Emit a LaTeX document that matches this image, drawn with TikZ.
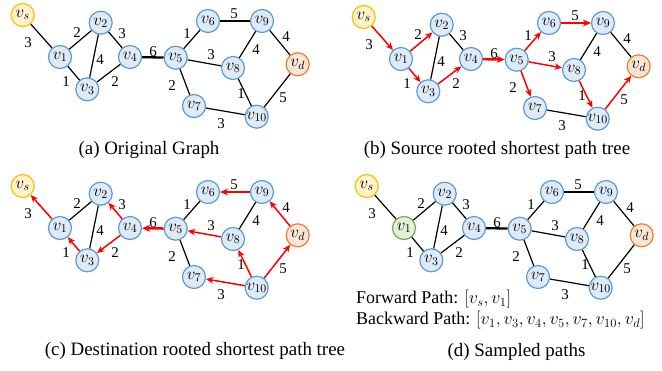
\RequirePackage{fix-cm}
\documentclass[tikz,border=0pt]{standalone}
\usepackage{fontspec}
\setmainfont{Liberation Serif}
\usetikzlibrary{arrows.meta}

\definecolor{nodefill}{HTML}{DEEBF7}
\definecolor{nodeline}{HTML}{5B9BD5}
\definecolor{srcfill}{HTML}{FFF2CC}
\definecolor{srcline}{HTML}{FFC000}
\definecolor{dstfill}{HTML}{FBE5D6}
\definecolor{dstline}{HTML}{ED7D31}
\definecolor{pickfill}{HTML}{E2F0D9}
\definecolor{pickline}{HTML}{70AD47}
\definecolor{treered}{HTML}{FF0000}

\tikzset{
  vnode/.style={circle, draw=nodeline, fill=nodefill, line width=1.2bp,
    minimum size=23bp, inner sep=0pt, font=\fontsize{17}{17}\selectfont},
  srcnode/.style={draw=srcline, fill=srcfill},
  dstnode/.style={draw=dstline, fill=dstfill},
  picknode/.style={draw=pickline, fill=pickfill},
  wlabel/.style={font=\fontsize{15}{15}\selectfont, inner sep=0pt},
  plain/.style={line width=1.2bp, black},
  heavy/.style={line width=2.3bp},
  tree/.style={treered, line width=1.5bp, -{Stealth[length=7.5bp,width=6.5bp]}},
  heavytree/.style={tree, line width=2.5bp, -{Stealth[length=8bp,width=7bp]}},
  caption/.style={font=\fontsize{19}{19}\selectfont, inner sep=0pt},
  pathtext/.style={font=\fontsize{18}{18}\selectfont, inner sep=0pt, anchor=west},
}

% vertices of one copy of the graph; #1 = name prefix, #2 = extra style for v1
\newcommand\graphnodes[2]{%
  \node[vnode,srcnode] (#1vs)  at (22.7,15)    {$v_s$};
  \node[vnode,#2]      (#1v1)  at (60,57)      {$v_1$};
  \node[vnode]         (#1v2)  at (100.7,22.7) {$v_2$};
  \node[vnode]         (#1v3)  at (87.3,89.3)  {$v_3$};
  \node[vnode]         (#1v4)  at (130,57)     {$v_4$};
  \node[vnode]         (#1v5)  at (175.7,57.7) {$v_5$};
  \node[vnode]         (#1v6)  at (208,21)     {$v_6$};
  \node[vnode]         (#1v7)  at (194,106)    {$v_7$};
  \node[vnode]         (#1v8)  at (233,68)     {$v_8$};
  \node[vnode]         (#1v9)  at (262,21)     {$v_9$};
  \node[vnode]         (#1v10) at (256.7,116.7){$v_{10}$};
  \node[vnode,dstnode] (#1vd)  at (297.7,64.3) {$v_d$};
}

% edge weights; #1 = name prefix
\newcommand\graphweights[1]{%
  \node[wlabel] (#1w1)  at (28,43)  {3};
  \node[wlabel] (#1w2)  at (77,33)  {2};
  \node[wlabel] (#1w3)  at (122,34) {3};
  \node[wlabel] (#1w4)  at (100,60) {4};
  \node[wlabel] (#1w5)  at (66,82)  {1};
  \node[wlabel] (#1w6)  at (115,82) {2};
  \node[wlabel] (#1w7)  at (153,52) {6};
  \node[wlabel] (#1w8)  at (187,34) {1};
  \node[wlabel] (#1w9)  at (234,14) {5};
  \node[wlabel] (#1w10) at (211,55) {3};
  \node[wlabel] (#1w11) at (256,50) {4};
  \node[wlabel] (#1w12) at (286,37) {4};
  \node[wlabel] (#1w13) at (172,86) {2};
  \node[wlabel] (#1w14) at (241,94) {1};
  \node[wlabel] (#1w15) at (283,98) {5};
  \node[wlabel] (#1w16) at (221,124){3};
}

% undirected graph; #1 = name prefix
\newcommand\plaingraph[1]{%
  \draw[plain] (#1vs) -- (#1v1);
  \draw[plain] (#1v1) -- (#1v2);
  \draw[plain] (#1v1) -- (#1v3);
  \draw[plain] (#1v2) -- (#1v3);
  \draw[plain] (#1v2) -- (#1v4);
  \draw[plain] (#1v3) -- (#1v4);
  \draw[plain,heavy] (#1v4) -- (#1v5);
  \draw[plain] (#1v5) -- (#1v6);
  \draw[plain] (#1v5) -- (#1v8);
  \draw[plain] (#1v5) -- (#1v7);
  \draw[plain,heavy] (#1v6) -- (#1v9);
  \draw[plain] (#1v8) -- (#1v9);
  \draw[plain] (#1v8) -- (#1v10);
  \draw[plain] (#1v9) -- (#1vd);
  \draw[plain] (#1v7) -- (#1v10);
  \draw[plain] (#1v10) -- (#1vd);
}

\begin{document}
\begin{tikzpicture}[x=1bp,y=-1bp]
\useasboundingbox (0,0) rectangle (662,370);

% (a) original graph
\begin{scope}
  \graphnodes{a}{}
  \graphweights{a}
  \plaingraph{a}
\end{scope}
\node[caption] (capa) at (149,150) {(a) Original Graph};

% (b) tree of shortest paths from the source
\begin{scope}[shift={(341,2)}]
  \graphnodes{b}{}
  \graphweights{b}
  \draw[tree] (bvs) -- (bv1);
  \draw[tree] (bv1) -- (bv2);
  \draw[tree] (bv1) -- (bv3);
  \draw[plain] (bv2) -- (bv3);
  \draw[plain] (bv2) -- (bv4);
  \draw[tree] (bv3) -- (bv4);
  \draw[heavytree] (bv4) -- (bv5);
  \draw[tree] (bv5) -- (bv6);
  \draw[tree] (bv5) -- (bv8);
  \draw[tree] (bv5) -- (bv7);
  \draw[heavytree] (bv6) -- (bv9);
  \draw[plain] (bv8) -- (bv9);
  \draw[tree] (bv8) -- (bv10);
  \draw[plain] (bv9) -- (bvd);
  \draw[plain] (bv7) -- (bv10);
  \draw[tree] (bv10) -- (bvd);
\end{scope}
\node[caption] (capb) at (497,150) {(b) Source rooted shortest path tree};

% (c) tree of shortest paths towards the destination
\begin{scope}[shift={(0,171)}]
  \graphnodes{c}{}
  \graphweights{c}
  \draw[tree] (cv1) -- (cvs);
  \draw[plain] (cv1) -- (cv2);
  \draw[tree] (cv3) -- (cv1);
  \draw[plain] (cv2) -- (cv3);
  \draw[tree] (cv4) -- (cv2);
  \draw[tree] (cv4) -- (cv3);
  \draw[heavytree] (cv5) -- (cv4);
  \draw[plain] (cv5) -- (cv6);
  \draw[tree] (cv8) -- (cv5);
  \draw[plain] (cv5) -- (cv7);
  \draw[heavytree] (cv9) -- (cv6);
  \draw[plain] (cv8) -- (cv9);
  \draw[tree] (cv10) -- (cv8);
  \draw[tree] (cvd) -- (cv9);
  \draw[tree] (cv10) -- (cv7);
  \draw[tree] (cv10) -- (cvd);
\end{scope}
\node[caption] (capc) at (195,351) {(c) Destination rooted shortest path tree};

% (d) sampled forward and backward paths
\begin{scope}[shift={(344,171)}]
  \graphnodes{d}{picknode}
  \graphweights{d}
  \plaingraph{d}
\end{scope}
\node[pathtext] (fwd) at (356,299) {Forward Path: $[v_s, v_1]$};
\node[pathtext] (bwd) at (356,320) {Backward Path: $[v_1, v_3, v_4, v_5, v_7, v_{10}, v_d]$};
\node[caption] (capd) at (516.5,352) {(d) Sampled paths};

\end{tikzpicture}
\end{document}
